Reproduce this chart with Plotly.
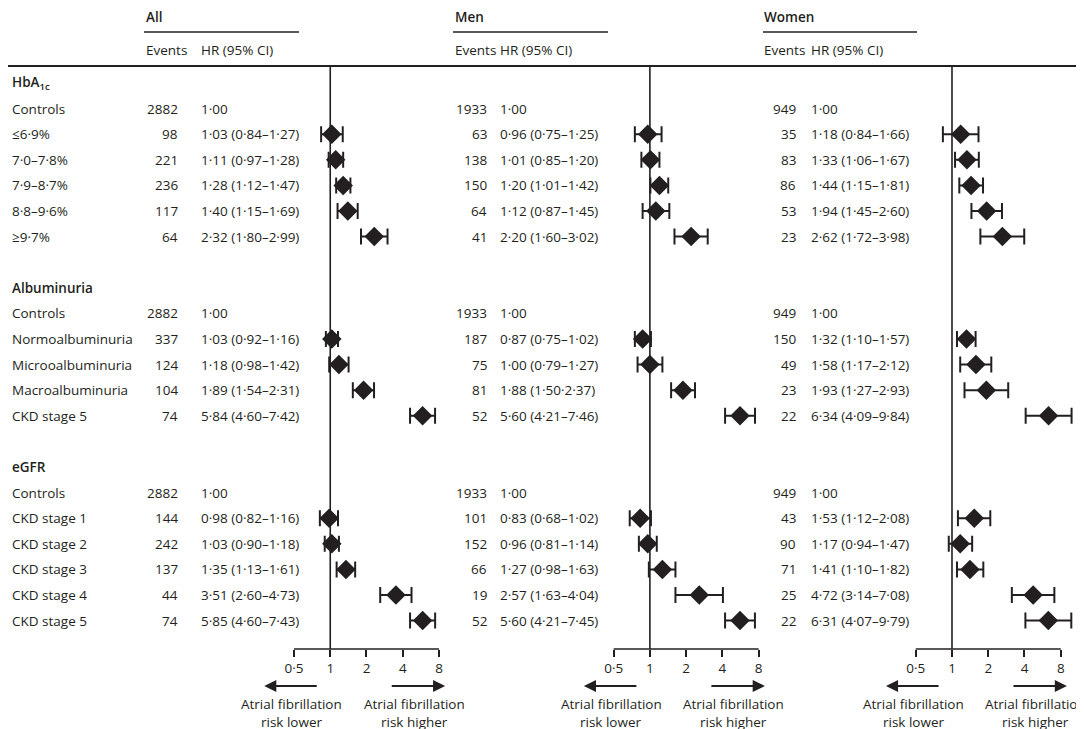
import math
import plotly.graph_objects as go

# ---------------- data ----------------
group_titles = ["HbA<sub>1c</sub>", "Albuminuria", "eGFR"]
hba1c_labels = ["Controls", "≤6·9%", "7·0–7·8%", "7·9–8·7%", "8·8–9·6%", "≥9·7%"]
alb_labels = ["Controls", "Normoalbuminuria", "Microoalbuminuria", "Macroalbuminuria", "CKD stage 5"]
egfr_labels = ["Controls", "CKD stage 1", "CKD stage 2", "CKD stage 3", "CKD stage 4", "CKD stage 5"]

panel_names = ["All", "Men", "Women"]

all_events = [2882, 98, 221, 236, 117, 64,
              2882, 337, 124, 104, 74,
              2882, 144, 242, 137, 44, 74]
all_hr = [1.00, 1.03, 1.11, 1.28, 1.40, 2.32,
          1.00, 1.03, 1.18, 1.89, 5.84,
          1.00, 0.98, 1.03, 1.35, 3.51, 5.85]
all_lo = [None, 0.84, 0.97, 1.12, 1.15, 1.80,
          None, 0.92, 0.98, 1.54, 4.60,
          None, 0.82, 0.90, 1.13, 2.60, 4.60]
all_hi = [None, 1.27, 1.28, 1.47, 1.69, 2.99,
          None, 1.16, 1.42, 2.31, 7.42,
          None, 1.16, 1.18, 1.61, 4.73, 7.43]

men_events = [1933, 63, 138, 150, 64, 41,
              1933, 187, 75, 81, 52,
              1933, 101, 152, 66, 19, 52]
men_hr = [1.00, 0.96, 1.01, 1.20, 1.12, 2.20,
          1.00, 0.87, 1.00, 1.88, 5.60,
          1.00, 0.83, 0.96, 1.27, 2.57, 5.60]
men_lo = [None, 0.75, 0.85, 1.01, 0.87, 1.60,
          None, 0.75, 0.79, 1.50, 4.21,
          None, 0.68, 0.81, 0.98, 1.63, 4.21]
men_hi = [None, 1.25, 1.20, 1.42, 1.45, 3.02,
          None, 1.02, 1.27, 2.37, 7.46,
          None, 1.02, 1.14, 1.63, 4.04, 7.45]

women_events = [949, 35, 83, 86, 53, 23,
                949, 150, 49, 23, 22,
                949, 43, 90, 71, 25, 22]
women_hr = [1.00, 1.18, 1.33, 1.44, 1.94, 2.62,
            1.00, 1.32, 1.58, 1.93, 6.34,
            1.00, 1.53, 1.17, 1.41, 4.72, 6.31]
women_lo = [None, 0.84, 1.06, 1.15, 1.45, 1.72,
            None, 1.10, 1.17, 1.27, 4.09,
            None, 1.12, 0.94, 1.10, 3.14, 4.07]
women_hi = [None, 1.66, 1.67, 1.81, 2.60, 3.98,
            None, 1.57, 2.12, 2.93, 9.84,
            None, 2.08, 1.47, 1.82, 7.08, 9.79]

# CI separator as printed (one row in the source uses a dot)
ci_sep_override = {("Men", 9): "·"}

tick_vals = [0.5, 1, 2, 4, 8]
tick_text = ["0·5", "1", "2", "4", "8"]
lower_text = ["Atrial fibrillation", "risk lower"]
higher_text = ["Atrial fibrillation", "risk higher"]

# ---------------- layout constants ----------------
W, H = 1084, 729
INK = "#231f20"
FONT = "Open Sans, Noto Sans, sans-serif"
FS = 13.5
ROW0_PX = 75.0          # pixel y of first row
ROW_PX = 25.6           # pixel per row
OCT_PX = 36.25          # pixels per doubling of HR
X_LO, X_HI = 0.35, 12.0

def px_to_row(py):
    return (py - ROW0_PX) / ROW_PX

y_top = px_to_row(0)
y_bot = px_to_row(H)

panels = [
    dict(name="All", events=all_events, hr=all_hr, lo=all_lo, hi=all_hi,
         c=322.25, title_x=136.5, ev_right=170.5, hr_left=191.5, ul=(136, 291)),
    dict(name="Men", events=men_events, hr=men_hr, lo=men_lo, hi=men_hi,
         c=641.9, title_x=445.5, ev_right=479.5, hr_left=490.5, ul=(445, 600)),
    dict(name="Women", events=women_events, hr=women_hr, lo=women_lo, hi=women_hi,
         c=944.0, title_x=755.0, ev_right=788.5, hr_left=801.5, ul=(755, 909)),
]

# row positions
label_groups = [hba1c_labels, alb_labels, egfr_labels]
title_rows = []
item_rows = []
item_labels = []
k = 0
for gi, labs in enumerate(label_groups):
    title_rows.append(k)
    k += 1
    for lab in labs:
        item_rows.append(k)
        item_labels.append(lab)
        k += 1
    k += 1  # blank row

header_line_row = px_to_row(58)
axis_row = px_to_row(641)
underline_row = px_to_row(24)
title_row = px_to_row(8.5)
colhead_row = px_to_row(42)
arrow_row = px_to_row(678)
txt1_row = px_to_row(696)
txt2_row = px_to_row(714)


def fmt(v):
    return f"{v:.2f}".replace(".", "·")


fig = go.Figure()
annotations = []
shapes = []


def ann(text, x, y, xanchor="left", bold=False, xref="paper", size=FS):
    annotations.append(dict(
        text=text, x=x, y=y, xref=xref, yref="y", xanchor=xanchor, yanchor="middle",
        showarrow=False, borderpad=0,
        font=dict(family=FONT, size=size, color=INK, weight=600 if bold else 400)))


# left label column
for t, r in zip(group_titles, title_rows):
    ann(t, 3 / W, r, bold=True)
for lab, r in zip(item_labels, item_rows):
    ann(lab, 3 / W, r)

# full-width header rule
shapes.append(dict(type="line", xref="paper", yref="y", x0=0, x1=1,
                   y0=header_line_row, y1=header_line_row,
                   line=dict(color=INK, width=2)))

axis_pos = 1 - 641 / H

for i, p in enumerate(panels):
    axname = "x" if i == 0 else f"x{i+1}"
    layname = "xaxis" if i == 0 else f"xaxis{i+1}"
    left_px = p["c"] + OCT_PX * math.log2(X_LO)
    right_px = p["c"] + OCT_PX * math.log2(X_HI)
    fig.layout[layname] = dict(
        type="log", domain=[left_px / W, right_px / W],
        range=[math.log10(X_LO), math.log10(X_HI)],
        anchor="free", position=axis_pos,
        showgrid=False, zeroline=False, showline=False,
        tickvals=tick_vals, ticktext=tick_text,
        ticks="outside", ticklen=7, tickwidth=1.5, tickcolor=INK,
        tickfont=dict(family=FONT, size=FS, color=INK),
        fixedrange=True)

    # header
    ann(p["name"], p["title_x"] / W, title_row, bold=True)
    shapes.append(dict(type="line", xref="paper", yref="y",
                       x0=p["ul"][0] / W, x1=p["ul"][1] / W,
                       y0=underline_row, y1=underline_row,
                       line=dict(color=INK, width=1.5)))
    ann("Events", p["title_x"] / W, colhead_row)
    ann("HR (95% CI)", p["hr_left"] / W, colhead_row)

    # text columns
    for j, r in enumerate(item_rows):
        ann(str(p["events"][j]), p["ev_right"] / W, r, xanchor="right")
        if p["lo"][j] is None:
            s = fmt(p["hr"][j])
        else:
            sep = ci_sep_override.get((p["name"], j), "–")
            s = f"{fmt(p['hr'][j])} ({fmt(p['lo'][j])}{sep}{fmt(p['hi'][j])})"
        ann(s, p["hr_left"] / W, r)

    # reference line at HR = 1
    fig.add_trace(go.Scatter(x=[1, 1], y=[header_line_row, axis_row], mode="lines",
                             line=dict(color=INK, width=1.6), xaxis=axname, yaxis="y",
                             hoverinfo="skip", cliponaxis=False))
    # axis line from 0.5 to 8
    fig.add_trace(go.Scatter(x=[tick_vals[0], tick_vals[-1]], y=[axis_row, axis_row],
                             mode="lines", line=dict(color=INK, width=1.5),
                             xaxis=axname, yaxis="y", hoverinfo="skip", cliponaxis=False))

    # estimates
    xs, ys, ep, em = [], [], [], []
    for j, r in enumerate(item_rows):
        if p["lo"][j] is None:
            continue
        xs.append(p["hr"][j])
        ys.append(r)
        ep.append(p["hi"][j] - p["hr"][j])
        em.append(p["hr"][j] - p["lo"][j])
    fig.add_trace(go.Scatter(
        x=xs, y=ys, mode="markers", xaxis=axname, yaxis="y",
        marker=dict(symbol="diamond", size=15, color=INK, line=dict(width=0)),
        error_x=dict(type="data", symmetric=False, array=ep, arrayminus=em,
                     color=INK, thickness=2, width=8),
        cliponaxis=False, hoverinfo="skip"))

    # arrows and captions
    for tip, tail in [(0.283, 0.795), (9.0, 3.15)]:
        annotations.append(dict(
            x=math.log10(tip), y=arrow_row, ax=math.log10(tail), ay=arrow_row,
            xref=axname, yref="y", axref=axname, ayref="y", text="",
            showarrow=True, arrowhead=2, arrowsize=1.1, arrowwidth=2.2,
            arrowcolor=INK, standoff=0, startstandoff=0))
    for cx, lines in [(0.479, lower_text), (4.98, higher_text)]:
        for ln, rr in zip(lines, [txt1_row, txt2_row]):
            annotations.append(dict(
                text=ln, x=math.log10(cx), y=rr, xref=axname, yref="y",
                xanchor="center", yanchor="middle", showarrow=False, borderpad=0,
                font=dict(family=FONT, size=FS, color=INK)))

fig.update_layout(
    width=W, height=H,
    margin=dict(l=0, r=0, t=0, b=0),
    paper_bgcolor="white", plot_bgcolor="rgba(0,0,0,0)",
    showlegend=False,
    yaxis=dict(domain=[0, 1], range=[y_bot, y_top], visible=False, fixedrange=True),
    annotations=annotations, shapes=shapes,
)

fig.write_html("out.html")
